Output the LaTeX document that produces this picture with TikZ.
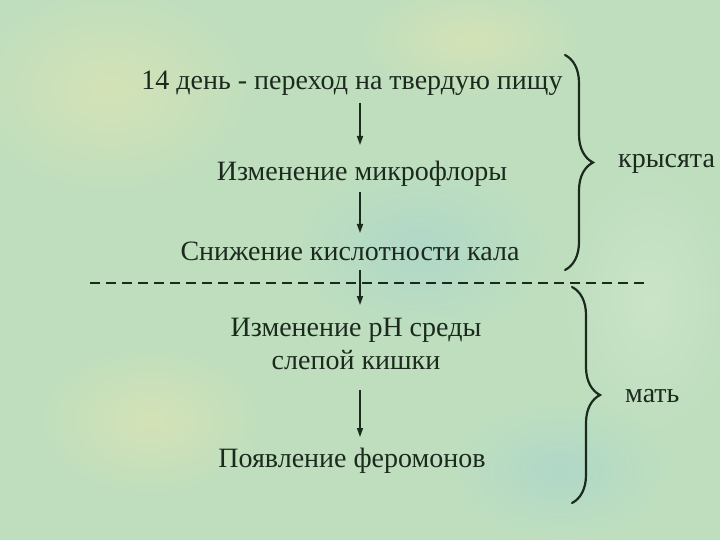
\documentclass[tikz,border=0pt]{standalone}
\usepackage{fontspec}
\setmainfont{Liberation Serif}
\usetikzlibrary{arrows.meta,decorations.pathreplacing,calc}
\definecolor{ink}{RGB}{28,42,30}
\definecolor{bgbase}{RGB}{190,222,190}
\definecolor{bgyel}{RGB}{212,226,182}
\definecolor{bgteal}{RGB}{176,216,200}
\definecolor{bgpale}{RGB}{202,228,200}
\tikzset{
  txt/.style={anchor=base, inner sep=0pt, text=ink, font=\rmfamily\fontsize{28}{33}\selectfont},
  arr/.style={draw=ink, line width=1.5pt, -{Triangle[length=9pt,width=6pt]}},
  brc/.style={draw=ink, line width=2.2pt, line cap=round,
              decorate, decoration={brace, amplitude=28pt}},
  sep/.style={draw=ink, line width=2pt, dash pattern=on 10pt off 6pt},
  blob/.style={inner color=#1, outer color=bgbase}
}
\begin{document}
\begin{tikzpicture}[x=1pt,y=-1pt]
\useasboundingbox (0,0) rectangle (720,540);
% background
\fill[bgbase] (0,0) rectangle (720,540);
\shade[blob=bgyel] (110,90) ellipse (150 and 110);
\shade[blob=bgyel] (470,40) ellipse (120 and 60);
\shade[blob=bgteal] (420,250) ellipse (130 and 90);
\shade[blob=bgpale] (650,300) ellipse (90 and 140);
\shade[blob=bgyel] (150,420) ellipse (120 and 80);
\shade[blob=bgteal] (560,470) ellipse (110 and 70);
% axis for arrows
\coordinate (ax) at (360,0);
% texts
\node[txt] (t1) at (352,90) {14 день - переход на твердую пищу};
\node[txt] (t2) at (362,181) {Изменение микрофлоры};
\node[txt] (t3) at (350,260) {Снижение кислотности кала};
\node[txt, align=center] (t4) at (356,369) {Изменение рН среды\\слепой кишки};
\node[txt] (t5) at (352,467) {Появление феромонов};
\node[txt, anchor=base west] (k) at (618,168) {крысята};
\node[txt, anchor=base west] (m) at (625,402) {мать};
% arrows
\draw[arr] ($(t1.base -| ax)+(0,13)$) -- ($(t2.base -| ax)+(0,-36)$);
\draw[arr] ($(t2.base -| ax)+(0,11)$) -- ($(t3.base -| ax)+(0,-27)$);
\draw[arr] ($(t3.base -| ax)+(0,10)$) -- ($(t4.base -| ax)+(0,-64)$);
\draw[arr] ($(t4.base -| ax)+(0,21)$) -- ($(t5.base -| ax)+(0,-30)$);
% separator
\coordinate (d1) at (90,283);
\coordinate (d2) at (647,283);
\draw[sep] (d1) -- (d2);
% braces
\coordinate (b1t) at (565,55);
\coordinate (b1b) at (565,270);
\coordinate (b2t) at (572,287);
\coordinate (b2b) at (572,503);
\draw[brc] (b1t) -- (b1b);
\draw[brc] (b2t) -- (b2b);
\end{tikzpicture}
\end{document}
